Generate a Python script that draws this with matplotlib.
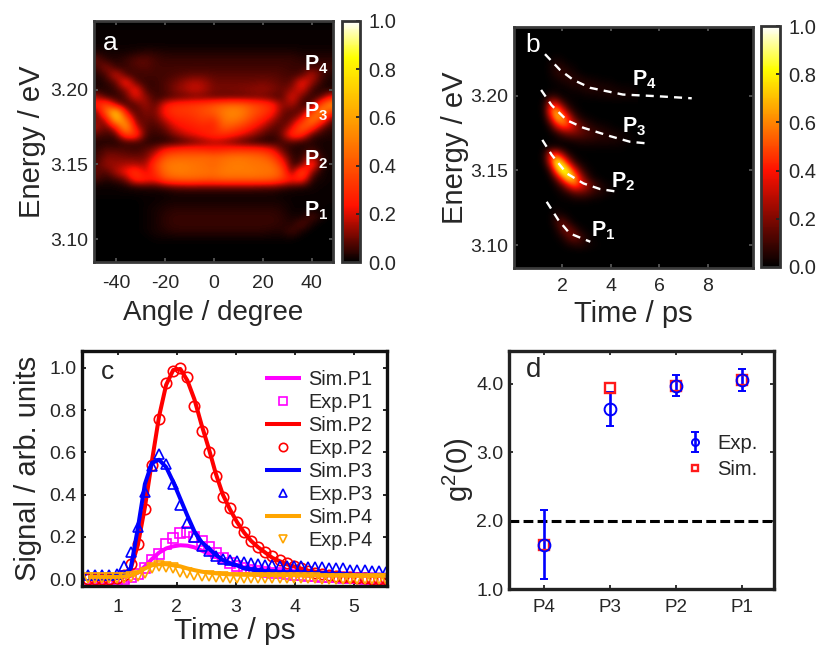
import numpy as np
import matplotlib
matplotlib.use("Agg")
import matplotlib.pyplot as plt
from matplotlib.colors import LinearSegmentedColormap

plt.rcParams['font.family'] = ['Liberation Sans', 'DejaVu Sans']
plt.rcParams['mathtext.fontset'] = 'custom'
plt.rcParams['mathtext.rm'] = 'Liberation Sans'
plt.rcParams['mathtext.bf'] = 'Liberation Sans:bold'
plt.rcParams['mathtext.default'] = 'regular'
plt.rcParams['axes.unicode_minus'] = False

W, H = 816, 648
TXT = '#262626'

# panel a, percent of max. columns are angle, rows are energy from top down
angle_a = [-48, -44, -40, -36, -32, -28, -24, -20, -16, -12, -8, -4, 0, 4, 8, 12, 16, 20, 24, 28, 32, 36, 40, 44, 48]
energy_a = [3.245, 3.085]
map_a = [
    [0, 0, 0, 0, 0, 0, 0, 0, 0, 0, 0, 0, 0, 0, 0, 0, 0, 0, 0, 0, 0, 0, 0, 0, 0],
    [1, 1, 1, 1, 1, 1, 1, 1, 1, 1, 1, 1, 1, 1, 1, 1, 1, 1, 1, 1, 1, 1, 1, 1, 1],
    [1, 1, 1, 1, 1, 1, 1, 1, 1, 1, 1, 1, 1, 1, 1, 1, 1, 1, 1, 1, 1, 1, 1, 1, 1],
    [1, 1, 1, 1, 1, 1, 1, 1, 1, 1, 1, 1, 1, 1, 1, 1, 1, 1, 1, 1, 1, 1, 1, 1, 1],
    [3, 2, 2, 2, 3, 4, 4, 3, 3, 3, 3, 3, 3, 3, 3, 3, 3, 3, 3, 3, 3, 2, 2, 2, 2],
    [10, 4, 3, 5, 8, 9, 6, 5, 5, 5, 5, 5, 5, 5, 5, 5, 5, 5, 5, 5, 5, 4, 4, 4, 4],
    [5, 14, 5, 5, 7, 8, 6, 6, 6, 6, 6, 6, 6, 6, 6, 6, 6, 6, 6, 6, 5, 5, 6, 7, 5],
    [3, 6, 22, 7, 5, 6, 6, 6, 7, 8, 9, 9, 8, 8, 8, 8, 8, 8, 8, 7, 6, 7, 20, 6, 3],
    [2, 4, 8, 30, 8, 5, 5, 7, 10, 14, 17, 15, 10, 10, 10, 10, 10, 11, 10, 8, 8, 26, 14, 4, 2],
    [3, 3, 5, 12, 28, 6, 5, 7, 12, 15, 19, 16, 11, 11, 11, 12, 13, 14, 12, 9, 14, 22, 5, 3, 3],
    [18, 6, 4, 7, 22, 14, 5, 6, 8, 9, 10, 10, 9, 9, 9, 9, 10, 10, 8, 7, 24, 8, 4, 8, 26],
    [26, 42, 14, 5, 7, 16, 7, 24, 30, 32, 34, 36, 40, 44, 46, 44, 38, 34, 28, 12, 16, 5, 6, 40, 60],
    [8, 45, 80, 20, 6, 12, 10, 26, 32, 32, 34, 38, 42, 50, 54, 50, 40, 34, 26, 10, 7, 8, 34, 58, 28],
    [12, 14, 72, 50, 8, 10, 8, 18, 26, 28, 30, 34, 30, 48, 50, 44, 34, 26, 16, 7, 10, 24, 55, 36, 8],
    [16, 8, 22, 68, 18, 8, 6, 10, 20, 24, 26, 28, 26, 42, 38, 32, 24, 16, 8, 8, 18, 46, 34, 10, 4],
    [8, 6, 6, 36, 36, 6, 5, 6, 12, 18, 22, 26, 30, 30, 26, 20, 14, 8, 5, 10, 34, 30, 7, 4, 3],
    [3, 3, 3, 5, 6, 4, 3, 3, 4, 6, 9, 12, 15, 13, 9, 6, 4, 3, 3, 6, 7, 4, 3, 2, 2],
    [4, 8, 7, 7, 5, 8, 12, 24, 28, 30, 30, 28, 26, 28, 30, 30, 30, 28, 22, 8, 3, 3, 6, 2, 2],
    [5, 12, 12, 10, 10, 10, 22, 40, 44, 44, 44, 46, 44, 46, 48, 48, 46, 44, 36, 18, 4, 4, 18, 3, 2],
    [7, 14, 14, 16, 16, 14, 34, 48, 50, 50, 48, 46, 44, 48, 50, 50, 48, 48, 46, 30, 4, 8, 36, 3, 2],
    [9, 7, 16, 24, 34, 18, 30, 46, 50, 50, 48, 48, 46, 50, 50, 50, 50, 48, 48, 40, 6, 45, 12, 2, 1],
    [7, 3, 6, 10, 30, 28, 24, 38, 42, 44, 44, 42, 42, 44, 44, 44, 44, 44, 42, 34, 26, 30, 3, 2, 1],
    [1, 1, 1, 2, 3, 4, 4, 6, 8, 9, 9, 9, 9, 9, 9, 9, 9, 8, 8, 6, 4, 3, 2, 1, 1],
    [1, 1, 1, 1, 1, 1, 1, 1, 2, 2, 2, 2, 2, 2, 2, 2, 2, 2, 2, 1, 1, 1, 1, 1, 1],
    [0, 0, 0, 0, 0, 1, 1, 2, 2, 2, 2, 2, 2, 2, 2, 2, 2, 2, 2, 2, 1, 1, 1, 1, 1],
    [0, 0, 0, 0, 0, 1, 2, 3, 4, 4, 4, 4, 4, 4, 4, 4, 4, 4, 4, 3, 1, 1, 1, 1, 0],
    [0, 0, 0, 0, 0, 1, 2, 4, 5, 5, 5, 5, 5, 5, 5, 5, 5, 5, 5, 4, 2, 2, 8, 2, 0],
    [0, 0, 0, 0, 0, 1, 2, 4, 5, 5, 5, 5, 5, 5, 5, 5, 5, 5, 5, 4, 3, 9, 2, 0, 0],
    [0, 0, 0, 0, 0, 1, 2, 3, 4, 4, 4, 4, 4, 4, 4, 4, 4, 4, 3, 3, 7, 2, 0, 0, 0],
    [0, 0, 0, 0, 0, 0, 1, 1, 1, 1, 1, 1, 1, 1, 1, 1, 1, 1, 1, 1, 1, 0, 0, 0, 0],
    [0, 0, 0, 0, 0, 0, 0, 0, 0, 0, 0, 0, 0, 0, 0, 0, 0, 0, 0, 0, 0, 0, 0, 0, 0],
    [0, 0, 0, 0, 0, 0, 0, 0, 0, 0, 0, 0, 0, 0, 0, 0, 0, 0, 0, 0, 0, 0, 0, 0, 0],
    [0, 0, 0, 0, 0, 0, 0, 0, 0, 0, 0, 0, 0, 0, 0, 0, 0, 0, 0, 0, 0, 0, 0, 0, 0],
]

# panel b, percent of max, time 1-5 ps, everything outside is black
time_b = [1.0, 1.25, 1.5, 1.75, 2.0, 2.25, 2.5, 2.75, 3.0, 3.25, 3.5, 3.75, 4.0, 4.25, 4.5, 4.75, 5.0]
energy_b = [3.230, 3.095]
map_b = [
    [0, 0, 0, 0, 0, 0, 0, 0, 0, 0, 0, 0, 0, 0, 0, 0, 0],
    [0, 0, 1, 2, 1, 0, 0, 0, 0, 0, 0, 0, 0, 0, 0, 0, 0],
    [0, 0, 3, 6, 5, 2, 1, 0, 0, 0, 0, 0, 0, 0, 0, 0, 0],
    [0, 0, 2, 6, 8, 6, 3, 1, 0, 0, 0, 0, 0, 0, 0, 0, 0],
    [0, 0, 1, 2, 4, 6, 7, 6, 4, 3, 2, 1, 1, 0, 0, 0, 0],
    [0, 0, 0, 1, 1, 2, 3, 4, 6, 6, 5, 5, 4, 3, 2, 2, 1],
    [0, 0, 5, 4, 1, 1, 1, 1, 2, 2, 3, 3, 4, 4, 4, 3, 3],
    [0, 4, 30, 32, 12, 3, 1, 0, 0, 0, 0, 0, 0, 0, 0, 0, 0],
    [0, 4, 48, 68, 42, 14, 4, 1, 0, 0, 0, 0, 0, 0, 0, 0, 0],
    [0, 2, 28, 70, 66, 42, 14, 5, 2, 1, 0, 0, 0, 0, 0, 0, 0],
    [0, 0, 8, 34, 54, 50, 32, 16, 9, 5, 3, 2, 1, 0, 0, 0, 0],
    [0, 0, 1, 6, 14, 20, 20, 17, 13, 10, 8, 6, 4, 3, 2, 1, 0],
    [0, 0, 0, 1, 2, 3, 5, 6, 6, 6, 5, 5, 5, 4, 3, 2, 1],
    [0, 1, 4, 3, 1, 0, 0, 1, 1, 1, 1, 1, 1, 1, 1, 0, 0],
    [0, 5, 42, 56, 30, 8, 2, 0, 0, 0, 0, 0, 0, 0, 0, 0, 0],
    [0, 3, 34, 88, 76, 36, 10, 3, 1, 0, 0, 0, 0, 0, 0, 0, 0],
    [0, 0, 10, 60, 94, 80, 40, 14, 4, 1, 0, 0, 0, 0, 0, 0, 0],
    [0, 0, 2, 18, 54, 84, 70, 34, 12, 3, 1, 0, 0, 0, 0, 0, 0],
    [0, 0, 0, 4, 14, 36, 54, 44, 28, 14, 7, 3, 1, 0, 0, 0, 0],
    [0, 0, 0, 1, 3, 7, 14, 16, 14, 9, 6, 4, 2, 1, 0, 0, 0],
    [0, 0, 0, 0, 1, 1, 2, 2, 2, 1, 1, 0, 0, 0, 0, 0, 0],
    [0, 0, 0, 1, 0, 0, 0, 0, 0, 0, 0, 0, 0, 0, 0, 0, 0],
    [0, 0, 1, 5, 3, 1, 0, 0, 0, 0, 0, 0, 0, 0, 0, 0, 0],
    [0, 0, 1, 9, 16, 7, 1, 0, 0, 0, 0, 0, 0, 0, 0, 0, 0],
    [0, 0, 0, 3, 14, 20, 11, 3, 1, 0, 0, 0, 0, 0, 0, 0, 0],
    [0, 0, 0, 1, 4, 13, 18, 11, 4, 1, 0, 0, 0, 0, 0, 0, 0],
    [0, 0, 0, 0, 1, 3, 5, 6, 4, 2, 1, 0, 0, 0, 0, 0, 0],
    [0, 0, 0, 0, 0, 0, 0, 0, 0, 0, 0, 0, 0, 0, 0, 0, 0],
]

# dashed guide curves of panel b
p4_t = [1.28, 1.9, 2.45, 3.15, 4.5, 5.9, 7.34]
p4_e = [3.228, 3.2174, 3.2107, 3.2054, 3.2009, 3.1998, 3.1984]
p3_t = [1.12, 1.55, 2.18, 2.87, 3.97, 4.8, 5.6]
p3_e = [3.204, 3.1938, 3.1837, 3.1786, 3.173, 3.1692, 3.168]
p2_t = [1.17, 1.56, 2.18, 2.87, 3.56, 4.3]
p2_e = [3.1705, 3.1604, 3.148, 3.1413, 3.1375, 3.1357]
p1_t = [1.35, 1.83, 2.3, 3.15]
p1_e = [3.129, 3.1168, 3.1078, 3.1022]

# panel c
time_c = [0.50, 0.62, 0.74, 0.86, 0.98, 1.10, 1.22, 1.34, 1.46, 1.58, 1.70, 1.82, 1.94, 2.06, 2.18,
          2.30, 2.42, 2.54, 2.66, 2.78, 2.90, 3.02, 3.14, 3.26, 3.38, 3.50, 3.62, 3.74, 3.86, 3.98,
          4.10, 4.22, 4.34, 4.46, 4.58, 4.70, 4.82, 4.94, 5.06, 5.18, 5.30, 5.42, 5.54]
sim_p1 = [0.0, 0.0, 0.0, 0.0, 0.005, 0.01, 0.015, 0.03, 0.06, 0.095, 0.125, 0.145, 0.155, 0.16, 0.158,
          0.15, 0.135, 0.12, 0.105, 0.09, 0.075, 0.065, 0.055, 0.05, 0.045, 0.042, 0.04, 0.038, 0.036, 0.035,
          0.033, 0.032, 0.03, 0.03, 0.028, 0.027, 0.026, 0.025, 0.024, 0.023, 0.022, 0.021, 0.02]
exp_p1 = [0.0, 0.0, 0.0, 0.0, 0.0, 0.0, 0.01, 0.025, 0.05, 0.09, 0.12, 0.165, 0.195, 0.22, 0.225,
          0.2, 0.18, 0.15, 0.125, 0.10, 0.075, 0.06, 0.05, 0.045, 0.04, 0.035, 0.03, 0.03, 0.025, 0.02,
          0.02, 0.015, 0.015, 0.01, 0.01, 0.01, 0.005, 0.005, 0.005, 0.0, 0.0, 0.0, 0.0]
sim_p2 = [0.015, 0.015, 0.015, 0.015, 0.015, 0.02, 0.05, 0.16, 0.34, 0.56, 0.77, 0.92, 0.99, 0.995, 0.94,
          0.85, 0.73, 0.62, 0.50, 0.40, 0.33, 0.27, 0.22, 0.18, 0.15, 0.125, 0.10, 0.085, 0.07, 0.06,
          0.05, 0.04, 0.035, 0.03, 0.027, 0.025, 0.022, 0.02, 0.018, 0.017, 0.016, 0.015, 0.015]
exp_p2 = [0.0, 0.0, 0.0, 0.0, 0.005, 0.02, 0.07, 0.167, 0.33, 0.54, 0.76, 0.93, 0.985, 1.0, 0.955,
          0.82, 0.70, 0.60, 0.49, 0.39, 0.335, 0.27, 0.225, 0.18, 0.15, 0.13, 0.107, 0.09, 0.075, 0.06,
          0.05, 0.04, 0.03, 0.025, 0.02, 0.015, 0.01, 0.01, 0.005, 0.005, 0.0, 0.0, 0.0]
sim_p3 = [0.01, 0.01, 0.01, 0.01, 0.015, 0.02, 0.05, 0.24, 0.45, 0.55, 0.565, 0.53, 0.46, 0.38, 0.30,
          0.225, 0.175, 0.145, 0.115, 0.09, 0.075, 0.065, 0.05, 0.045, 0.04, 0.035, 0.03, 0.03, 0.028, 0.025,
          0.025, 0.024, 0.023, 0.022, 0.02, 0.02, 0.02, 0.02, 0.02, 0.02, 0.02, 0.02, 0.02]
exp_p3 = [0.02, 0.02, 0.02, 0.02, 0.025, 0.06, 0.13, 0.245, 0.41, 0.535, 0.59, 0.545, 0.45, 0.35, 0.265,
          0.2, 0.155, 0.135, 0.11, 0.095, 0.09, 0.085, 0.08, 0.075, 0.07, 0.065, 0.065, 0.06, 0.06, 0.06,
          0.06, 0.055, 0.055, 0.055, 0.05, 0.05, 0.05, 0.045, 0.045, 0.045, 0.04, 0.04, 0.035]
sim_p4 = [0.01, 0.01, 0.01, 0.01, 0.01, 0.012, 0.018, 0.03, 0.05, 0.065, 0.07, 0.07, 0.065, 0.06, 0.05,
          0.042, 0.035, 0.03, 0.027, 0.024, 0.022, 0.021, 0.02, 0.02, 0.02, 0.019, 0.019, 0.018, 0.018, 0.018,
          0.017, 0.017, 0.017, 0.016, 0.016, 0.016, 0.016, 0.015, 0.015, 0.015, 0.015, 0.015, 0.015]
exp_p4 = [0.005, 0.005, 0.005, 0.005, 0.005, 0.005, 0.01, 0.015, 0.03, 0.05, 0.06, 0.055, 0.05, 0.035, 0.03,
          0.02, 0.015, 0.012, 0.01, 0.008, 0.006, 0.005, 0.005, 0.005, 0.004, 0.004, 0.004, 0.004, 0.003, 0.003,
          0.003, 0.003, 0.003, 0.002, 0.002, 0.002, 0.002, 0.002, 0.002, 0.002, 0.002, 0.002, 0.002]

# panel d
peaks = ['P4', 'P3', 'P2', 'P1']
exp_g2 = [1.65, 3.63, 3.97, 4.06]
exp_err = [0.50, 0.25, 0.155, 0.16]
sim_g2 = [1.65, 3.94, 3.97, 4.06]


def box(left, top, right, bottom):
    return [left / W, 1 - bottom / H, (right - left) / W, (bottom - top) / H]


def style(ax, lw, col, fs=14, tcol=TXT, xpad=9):
    for s in ax.spines.values():
        s.set_linewidth(lw)
        s.set_color(col)
    ax.tick_params(direction='in', top=True, right=True, length=3, width=1.3, color=col,
                   labelsize=fs, labelcolor=tcol, pad=4)
    ax.tick_params(axis='x', pad=xpad)


def colorbar(fig, im, pos):
    cax = fig.add_axes(box(*pos))
    cb = fig.colorbar(im, cax=cax, ticks=[0, 0.2, 0.4, 0.6, 0.8, 1.0])
    cb.ax.set_yticklabels(['0.0', '0.2', '0.4', '0.6', '0.8', '1.0'])
    cb.outline.set_linewidth(2.0)
    cb.outline.set_edgecolor('#333333')
    cb.ax.tick_params(direction='in', length=3, width=1.3, color='#222222', labelsize=14.5, labelcolor=TXT, pad=6)


cmap_a = LinearSegmentedColormap.from_list('a', [(0, 'black'), (0.23, '#ff1000'), (0.55, '#ff9000'),
                                                 (0.85, '#ffff00'), (1, 'white')])
cmap_b = LinearSegmentedColormap.from_list('b', [(0, 'black'), (0.4, '#ff1000'), (0.62, '#ff9000'),
                                                 (0.82, '#ffff00'), (1, 'white')])

fig = plt.figure(figsize=(W / 100, H / 100), dpi=100)

# panel a
ax = fig.add_axes(box(94, 21, 333, 262))
ax.set_facecolor('black')
d_ang = angle_a[1] - angle_a[0]
d_e = (energy_a[0] - energy_a[1]) / (len(map_a) - 1)
im = ax.imshow(np.array(map_a) / 100, cmap=cmap_a, vmin=0, vmax=1, aspect='auto', interpolation='bicubic',
               extent=[angle_a[0] - d_ang / 2, angle_a[-1] + d_ang / 2, energy_a[1] - d_e / 2, energy_a[0] + d_e / 2])
ax.set_xlim(-49, 48.7)
ax.set_ylim(3.0846, 3.2462)
ax.set_xticks([-40, -20, 0, 20, 40])
ax.set_yticks([3.10, 3.15, 3.20])
ax.set_yticklabels(['3.10', '3.15', '3.20'])
style(ax, 2.0, '#3a3a3a')
ax.tick_params(color='#555555')
ax.set_xlabel('Angle / degree', fontsize=20, color=TXT, labelpad=6)
ax.set_ylabel('Energy / eV', fontsize=21, color=TXT, labelpad=3)
ax.text(-45.5, 3.2315, 'a', color='white', fontsize=19, va='center')
for n, e in zip([4, 3, 2, 1], [3.2167, 3.1855, 3.153, 3.119]):
    ax.text(36.8, e, r'$\mathbf{P}_{\mathbf{%d}}$' % n, color='white', fontsize=15.5, va='center')
colorbar(fig, im, (342, 21, 360, 262))

# panel b
ax = fig.add_axes(box(514, 27, 753, 268))
ax.set_facecolor('black')
d_t = time_b[1] - time_b[0]
d_e = (energy_b[0] - energy_b[1]) / (len(map_b) - 1)
im = ax.imshow(np.array(map_b) / 100, cmap=cmap_b, vmin=0, vmax=1, aspect='auto', interpolation='bicubic',
               extent=[time_b[0] - d_t / 2, time_b[-1] + d_t / 2, energy_b[1] - d_e / 2, energy_b[0] + d_e / 2])
for t, e in [(p4_t, p4_e), (p3_t, p3_e), (p2_t, p2_e), (p1_t, p1_e)]:
    ax.plot(t, e, color='white', lw=1.7, dashes=(3.4, 2.6))
ax.set_xlim(0, 9.87)
ax.set_ylim(3.0846, 3.2462)
ax.set_xticks([2, 4, 6, 8])
ax.set_yticks([3.10, 3.15, 3.20])
ax.set_yticklabels(['3.10', '3.15', '3.20'])
style(ax, 2.0, '#3a3a3a', xpad=7)
ax.tick_params(color='#555555')
ax.set_xlabel('Time / ps', fontsize=21, color=TXT, labelpad=4)
ax.set_ylabel('Energy / eV', fontsize=21, color=TXT, labelpad=1)
ax.text(0.45, 3.234, 'b', color='white', fontsize=19, va='center')
for n, t, e in zip([4, 3, 2, 1], [4.86, 4.44, 4.0, 3.2], [3.2107, 3.1794, 3.1425, 3.1096]):
    ax.text(t, e, r'$\mathbf{P}_{\mathbf{%d}}$' % n, color='white', fontsize=15.5, va='center')
colorbar(fig, im, (761, 26, 780, 267))

# panel c
ax = fig.add_axes(box(82, 351, 387, 586))
series = [('P1', sim_p1, exp_p1, '#ff00ff', 's'), ('P2', sim_p2, exp_p2, '#ff0000', 'o'),
          ('P3', sim_p3, exp_p3, '#0000ff', '^'), ('P4', sim_p4, exp_p4, '#ffa500', 'v')]
for name, sim, exper, col, mk in series:
    ax.plot(time_c, sim, color=col, lw=2.9, label='Sim.' + name, solid_capstyle='butt')
    ax.plot(time_c, exper, ls='none', marker=mk, ms=7.5, mfc='none', mec=col, mew=1.2, label='Exp.' + name)
ax.set_xlim(0.395, 5.56)
ax.set_ylim(-0.033, 1.08)
ax.set_xticks([1, 2, 3, 4, 5])
ax.set_yticks([0, 0.2, 0.4, 0.6, 0.8, 1.0])
ax.set_yticklabels(['0.0', '0.2', '0.4', '0.6', '0.8', '1.0'])
style(ax, 2.4, '#111111', xpad=9)
ax.set_xlabel('Time / ps', fontsize=21.5, color=TXT, labelpad=1)
ax.set_ylabel('Signal / arb. units', fontsize=21, color=TXT, labelpad=5)
ax.text(0.72, 0.98, 'c', color=TXT, fontsize=19, va='center')
leg = ax.legend(loc='upper right', bbox_to_anchor=(0.985, 0.96), frameon=False, fontsize=14.3, markerscale=0.8,
                handlelength=1.85, handletextpad=0.35, labelspacing=0.2, borderaxespad=0.3, borderpad=0.2)
for t in leg.get_texts():
    t.set_color(TXT)

# panel d
ax = fig.add_axes(box(509, 351, 774, 589))
pos = [1, 2, 3, 4]
ax.axhline(2.0, color='black', lw=2.2, dashes=(3.2, 1.4))
eb = ax.errorbar(pos, exp_g2, yerr=exp_err, ls='none', marker='o', ms=8.5, mfc='none', mec='#0000ff', mew=1.4,
                 ecolor='#0000ff', elinewidth=1.9, capsize=3, capthick=1.6, label='Exp.')
sm, = ax.plot(pos, sim_g2, ls='none', marker='s', ms=7.5, mfc='none', mec='#ff1a1a', mew=1.7, label='Sim.')
ax.set_xlim(0.47, 4.485)
ax.set_ylim(1.0, 4.48)
ax.set_xticks(pos)
ax.set_xticklabels(peaks)
ax.set_yticks([1, 2, 3, 4])
ax.set_yticklabels(['1.0', '2.0', '3.0', '4.0'])
style(ax, 2.4, '#222222', xpad=7)
ax.tick_params(axis='x', labelsize=13.5)
ax.set_ylabel(r'g$^{2}$(0)', fontsize=21, color=TXT, labelpad=0)
ax.text(0.72, 4.2, 'd', color=TXT, fontsize=20, va='center')
leg = ax.legend(handles=[eb, sm], loc='center left', bbox_to_anchor=(0.595, 0.557), frameon=False, fontsize=14.5,
                markerscale=0.6, handlelength=1.0, handletextpad=0.6, labelspacing=0.35)
for t in leg.get_texts():
    t.set_color(TXT)

fig.savefig('out.png', dpi=100)
